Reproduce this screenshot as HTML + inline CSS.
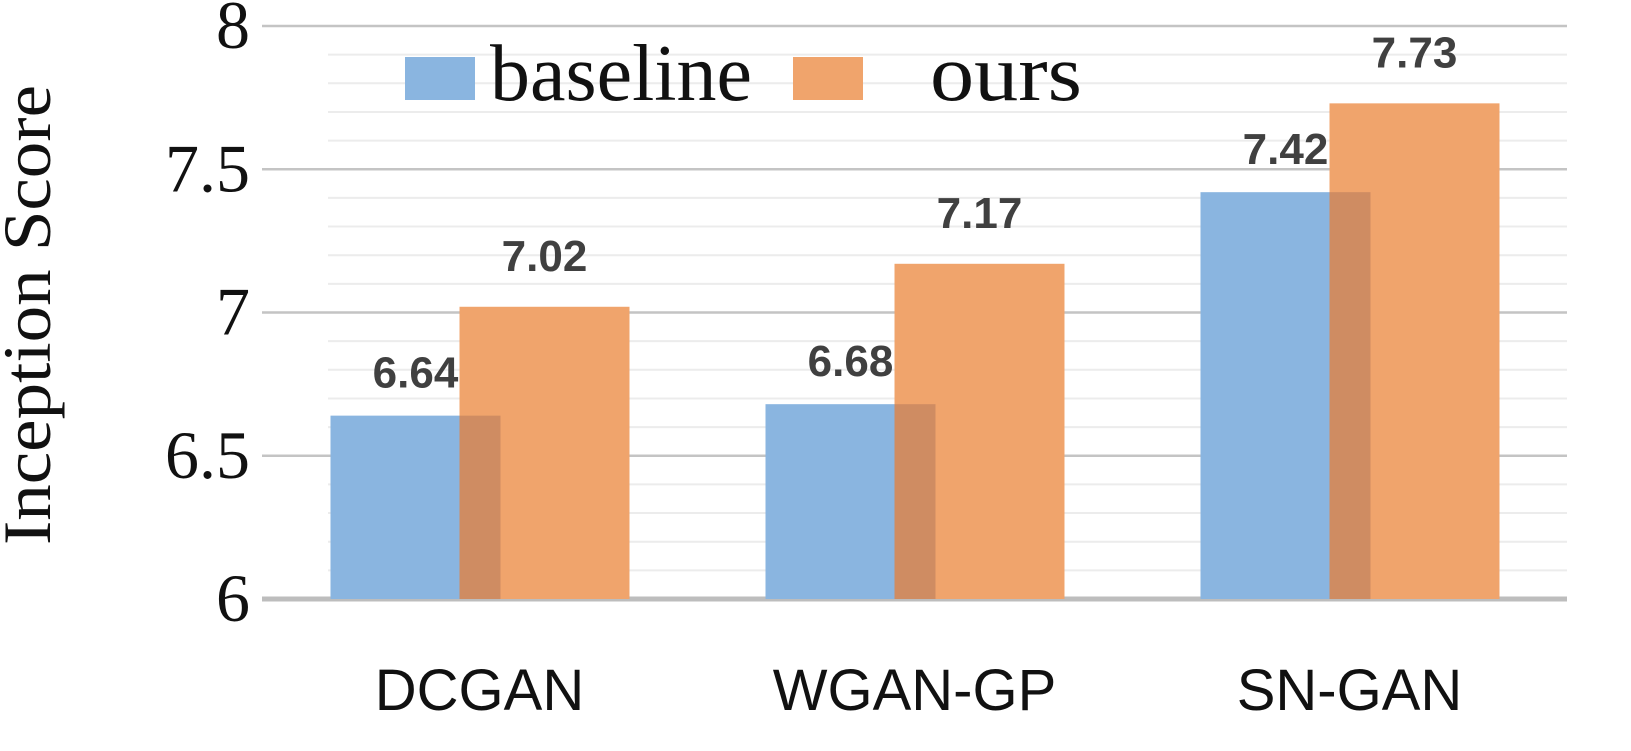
<!DOCTYPE html>
<html><head><meta charset="utf-8"><style>
html,body{margin:0;padding:0;background:#fff;}
svg{display:block;}
</style></head><body>
<svg id="chart" width="1631" height="751" viewBox="0 0 1631 751">
<g id="grid"></g>
<g id="bars"></g>
<g id="labels"></g>
<g id="yticks"></g>
<g id="xticks"></g>
<text transform="translate(50,315) rotate(-90)" text-anchor="middle" font-family="Liberation Serif, serif" font-size="68" fill="#111" textLength="460" lengthAdjust="spacingAndGlyphs">Inception Score</text>
<g>
<rect x="405" y="57" width="70" height="43" fill="#8ab5e0"/>
<text x="490" y="100" font-family="Liberation Serif, serif" font-size="80" fill="#111" textLength="262" lengthAdjust="spacingAndGlyphs">baseline</text>
<rect x="793" y="57" width="70" height="43" fill="#f0a46c"/>
<text x="930" y="100" font-family="Liberation Serif, serif" font-size="80" fill="#111" textLength="152" lengthAdjust="spacingAndGlyphs">ours</text>
</g>
</svg>
<script>
const categories = ["DCGAN", "WGAN-GP", "SN-GAN"];
const baseline = [6.64, 6.68, 7.42];
const ours = [7.02, 7.17, 7.73];
const yTicks = [6, 6.5, 7, 7.5, 8];
const yTickLabels = ["6", "6.5", "7", "7.5", "8"];

const NS = "http://www.w3.org/2000/svg";
const plotL = 262, plotR = 1567, yMin = 6, yMax = 8, py0 = 599, py1 = 26;
function y(v){ return py0 - (v - yMin) / (yMax - yMin) * (py0 - py1); }
const band = (plotR - plotL) / categories.length;
function xc(i){ return plotL + band * (i + 0.5); }
function mk(tag, attrs, parent){ const e = document.createElementNS(NS, tag); for (const k in attrs) e.setAttribute(k, attrs[k]); parent.appendChild(e); return e; }

const grid = document.getElementById('grid');
for (let v = 6.1; v < 8; v += 0.1) {
  if (Math.abs(v*2 - Math.round(v*2)) < 0.01) continue;
  const l = mk('line', {x1: 328, x2: plotR, y1: y(v), y2: y(v), stroke: '#ececec', 'stroke-width': 2}, grid);
  
  
}
yTicks.forEach((v, i) => {
  const l = mk('line', {x1: plotL, x2: plotR, y1: y(v), y2: y(v), stroke: i === 0 ? '#bdbdbd' : '#c4c4c4', 'stroke-width': i === 0 ? 5 : 2.5}, grid);
  
  
  const t = mk('text', {x: 250, y: y(v) + 22, 'text-anchor': 'end', 'font-family': 'Liberation Serif, serif', 'font-size': 68, fill: '#111'}, document.getElementById('yticks'));
  t.textContent = yTickLabels[i];
  
  
});

const bars = document.getElementById('bars'), labels = document.getElementById('labels');
const bw = 170;
categories.forEach((c, i) => {
  const cx = xc(i);
  const bx = cx - 149, ox = cx - 20;
  const b = mk('rect', {x: bx, y: y(baseline[i]), width: bw, height: py0 - y(baseline[i]), fill: '#8ab5e0'}, bars);
  
  
  const o = mk('rect', {x: ox, y: y(ours[i]), width: bw, height: py0 - y(ours[i]), fill: '#f0a46c'}, bars);
  
  
  const top = y(Math.min(baseline[i], ours[i]));
  const ov = mk('rect', {x: ox, y: top, width: bx + bw - ox, height: py0 - top, fill: '#cf8c62'}, bars);
  
  
  const lb = mk('text', {x: bx + bw/2, y: y(baseline[i]) - 28, 'text-anchor': 'middle', 'font-family': 'Liberation Sans, sans-serif', 'font-weight': 'bold', 'font-size': 44, fill: '#404040'}, labels);
  lb.textContent = baseline[i].toFixed(2);
  
  
  const lo = mk('text', {x: ox + bw/2, y: y(ours[i]) - 36, 'text-anchor': 'middle', 'font-family': 'Liberation Sans, sans-serif', 'font-weight': 'bold', 'font-size': 44, fill: '#404040'}, labels);
  lo.textContent = ours[i].toFixed(2);
  
  
  const xt = mk('text', {x: cx, y: 710, 'text-anchor': 'middle', 'font-family': 'Liberation Sans, sans-serif', 'font-size': 58, fill: '#111'}, document.getElementById('xticks'));
  xt.textContent = c;
  
  
});
</script>
</body></html>
